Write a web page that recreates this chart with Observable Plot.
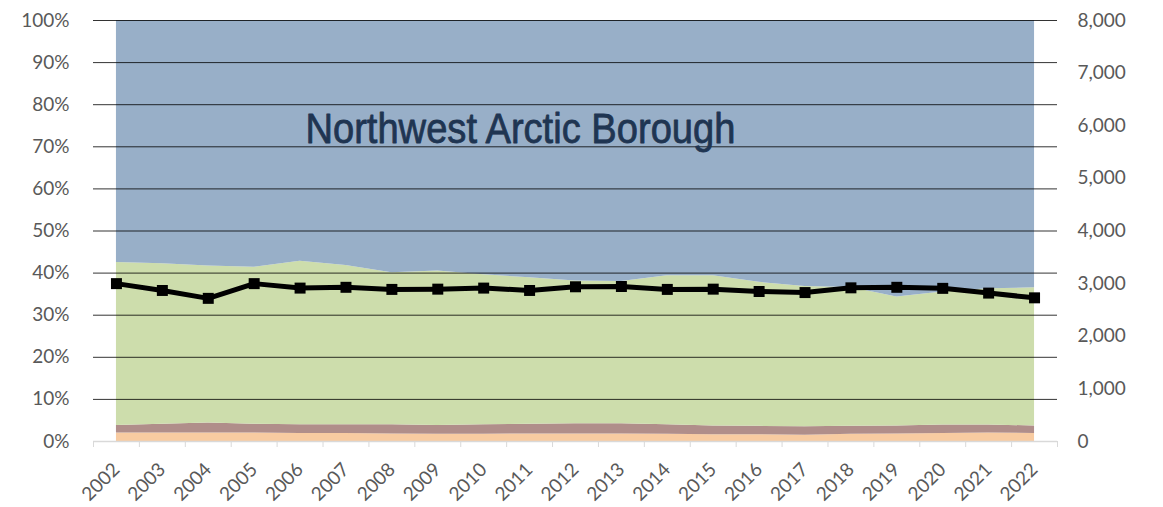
<!DOCTYPE html>
<html>
<head>
<meta charset="utf-8">
<script src="https://cdn.jsdelivr.net/npm/d3@7"></script>
<script src="https://cdn.jsdelivr.net/npm/@observablehq/plot@0.6"></script>
<style>
  body { margin: 0; background: #fff; }
  #chart svg { display: block; overflow: visible; }
</style>
</head>
<body>
<div id="chart"></div>
<script>
// ---- Data ----
const years = [2002,2003,2004,2005,2006,2007,2008,2009,2010,2011,2012,2013,2014,2015,2016,2017,2018,2019,2020,2021,2022];

// Stacked shares in percent (bottom to top)
const seriesA = [2.0,2.0,2.0,2.0,1.9,1.9,1.8,1.7,1.7,1.8,1.8,1.8,1.7,1.6,1.6,1.5,1.7,1.8,1.9,2.0,1.9];          // peach
const seriesB = [1.8,2.1,2.4,2.1,2.1,2.1,2.2,2.1,2.3,2.3,2.4,2.4,2.3,2.1,2.0,2.0,1.9,1.9,2.0,1.9,1.8];          // brown
const seriesC = [38.7,38.1,37.3,37.3,38.8,37.8,36.1,36.7,35.6,34.8,33.9,33.8,35.4,35.7,34.2,33.3,33.0,30.6,31.6,32.4,32.8]; // green
const seriesD = [57.5,57.8,58.3,58.6,57.2,58.2,59.9,59.5,60.4,61.1,61.9,62.0,60.6,60.6,62.2,63.2,63.4,65.7,64.5,63.7,63.5]; // blue

// Line series on the right axis (count)
const totals = [3000,2870,2720,3000,2915,2930,2890,2895,2915,2870,2940,2945,2890,2895,2850,2830,2920,2930,2910,2820,2730];

const seriesNames = ["A","B","C","D"];
const seriesColors = ["#F8CBA1","#B08E8A","#CDDDAC","#98AFC8"];

const leftTicks = [0,10,20,30,40,50,60,70,80,90,100];
const rightTicks = [0,1000,2000,3000,4000,5000,6000,7000,8000];
const rightMax = 8000;

const titleText = "Northwest Arctic Borough";
const titlePos = {x: 2010.8, y: 74.0};

// ---- Build tables ----
const stackRows = [];
[seriesA, seriesB, seriesC, seriesD].forEach((arr, i) => {
  arr.forEach((v, j) => stackRows.push({year: years[j], series: seriesNames[i], value: v}));
});
const lineRows = years.map((y, i) => ({year: y, total: totals[i]}));
const toPct = v => v / rightMax * 100;
const boundaries = years.map(y => y - 0.5).concat([years[years.length - 1] + 0.5]);

const chart = Plot.plot({
  width: 1163,
  height: 507,
  marginLeft: 93,
  marginRight: 106,
  marginTop: 20,
  marginBottom: 66,
  style: {fontFamily: "Lato, 'Open Sans', sans-serif", fontSize: "19px", color: "#595959", background: "#fff"},
  x: {type: "linear", domain: [years[0] - 0.5, years[years.length - 1] + 0.5], axis: null},
  y: {domain: [0, 100], axis: null},
  color: {domain: seriesNames, range: seriesColors},
  marks: [
    Plot.areaY(stackRows, {x: "year", y: "value", fill: "series", order: seriesNames, curve: "linear"}),
    Plot.ruleY(leftTicks.filter(t => t > 0), {stroke: "#000", strokeOpacity: 0.8, strokeWidth: 1}),
    Plot.ruleY([0], {stroke: "#d9d9d9", strokeWidth: 1.5}),
    Plot.axisX(boundaries, {anchor: "bottom", tickSize: 6, stroke: "#d9d9d9", tickFormat: () => ""}),
    Plot.axisX(years, {anchor: "bottom", tickSize: 0, tickPadding: 25, tickRotate: -45, tickFormat: d => String(d), fill: "#595959"}),
    Plot.axisY(leftTicks, {anchor: "left", tickSize: 0, tickPadding: 24, tickFormat: d => d + "%", fill: "#595959"}),
    Plot.axisY(rightTicks.map(toPct), {anchor: "right", tickSize: 0, tickPadding: 20, tickFormat: d => d3.format(",")(Math.round(d * rightMax / 100)), fill: "#595959"}),
    Plot.line(lineRows, {x: "year", y: d => toPct(d.total), stroke: "#000", strokeWidth: 5}),
    Plot.dot(lineRows, {x: "year", y: d => toPct(d.total), symbol: "square", r: 6.2, fill: "#000", stroke: null}),
    Plot.text([titlePos], {x: "x", y: "y", text: () => titleText, fontSize: 42, fill: "#1F3552", stroke: "#1F3552", strokeWidth: 0.8,
      fontFamily: "'Liberation Sans Narrow', 'Arial Narrow', 'Liberation Sans', sans-serif", textAnchor: "middle", lineAnchor: "middle"})
  ]
});
document.getElementById("chart").appendChild(chart);

// Fit the title to its width in the reference
d3.select(chart).selectAll("text").filter(function() { return this.textContent === titleText; })
  .attr("textLength", 430).attr("lengthAdjust", "spacingAndGlyphs");
</script>
</body>
</html>
